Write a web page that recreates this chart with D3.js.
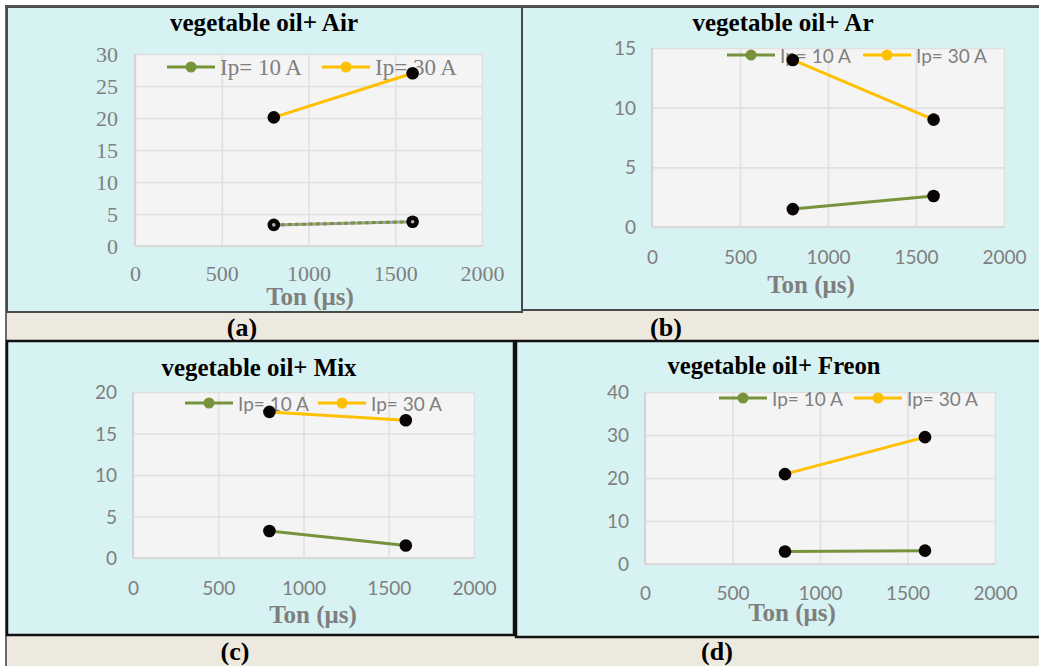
<!DOCTYPE html>
<html>
<head>
<meta charset="utf-8">
<script src="https://cdn.jsdelivr.net/npm/d3@7"></script>
<style>
  html, body { margin: 0; padding: 0; background: #ffffff; }
  svg { display: block; }
</style>
</head>
<body>
<script>
// Pulse-on time (µs) shared by every series
const tonUs = [800, 1600];
const seriesNames = ["Ip= 10 A", "Ip= 30 A"];

// Measured values per dielectric mixture
const airIp10 = [3.3, 3.8];
const airIp30 = [20.1, 27.0];
const arIp10 = [1.5, 2.6];
const arIp30 = [14.0, 9.0];
const mixIp10 = [3.25, 1.5];
const mixIp30 = [17.6, 16.6];
const freonIp10 = [2.9, 3.1];
const freonIp30 = [20.9, 29.5];

// Axis ticks
const xTicks = [0, 500, 1000, 1500, 2000];
const airYTicks = [0, 5, 10, 15, 20, 25, 30];
const arYTicks = [0, 5, 10, 15];
const mixYTicks = [0, 5, 10, 15, 20];
const freonYTicks = [0, 10, 20, 30, 40];

const titles = ["vegetable oil+ Air", "vegetable oil+ Ar", "vegetable oil+ Mix", "vegetable oil+ Freon"];
const panelLabels = ["(a)", "(b)", "(c)", "(d)"];
const xAxisTitle = "Ton (μs)";

const GREEN = "#77933c";
const YELLOW = "#ffc000";
const GRAY_TEXT = "#7f7f7f";
const SERIF = "'Liberation Serif', 'Times New Roman', serif";
const SANS = "Lato, 'Open Sans', sans-serif";

const svg = d3.select("body").append("svg")
  .attr("width", 1039).attr("height", 666);

// page background: white margin, beige caption strips
svg.append("rect").attr("x", 0).attr("y", 0).attr("width", 1039).attr("height", 666).attr("fill", "#ffffff");
svg.append("rect").attr("x", 6).attr("y", 6).attr("width", 1040).attr("height", 670).attr("fill", "#ede9df");
svg.append("line").attr("x1", 6).attr("x2", 6).attr("y1", 5).attr("y2", 666)
  .attr("stroke", "#6a6a6a").attr("stroke-width", 2);

function caption(text, x, y) {
  svg.append("text").attr("x", x).attr("y", y).attr("text-anchor", "middle")
    .attr("font-family", SERIF).attr("font-weight", "bold").attr("font-size", 26)
    .attr("fill", "#000").text(text);
}

caption(panelLabels[0], 242, 336);
caption(panelLabels[1], 666, 336);

function frame(x, y, w, h, color, sw) {
  svg.append("rect").attr("x", x).attr("y", y).attr("width", w).attr("height", h)
    .attr("fill", "#d7f2f2").attr("stroke", color).attr("stroke-width", sw);
}
frame(7, 7, 515, 305, "#4a4a4a", 2);
frame(522, 7, 530, 303, "#4a4a4a", 2);
svg.append("line").attr("x1", 5).attr("x2", 1039).attr("y1", 6).attr("y2", 6)
  .attr("stroke", "#555").attr("stroke-width", 2);
frame(7, 341, 507, 294, "#111111", 2.5);
frame(516, 341, 530, 296, "#111111", 2.5);

caption(panelLabels[2], 235, 660);
caption(panelLabels[3], 717, 660);

const panels = [
  { title: titles[0], low: airIp10, high: airIp30, yTicks: airYTicks, font: SERIF, tickSize: 22, legendSize: 23,
    plot: { x0: 135, x1: 482, y0: 54, y1: 246 }, titleX: 264, titleY: 31, titleW: 188,
    xTickY: 273, xTitleX: 310, xTitleY: 305, yTickEnd: 118,
    legendY: 67, legendX: [167, 322], dashedLow: true },
  { title: titles[1], low: arIp10, high: arIp30, yTicks: arYTicks, font: SANS, tickSize: 19, legendSize: 19,
    plot: { x0: 652, x1: 1004, y0: 48, y1: 227 }, titleX: 783, titleY: 31, titleW: 181,
    xTickY: 257, xTitleX: 811, xTitleY: 293, yTickEnd: 636,
    legendY: 55, legendX: [727, 863], dashedLow: false },
  { title: titles[2], low: mixIp10, high: mixIp30, yTicks: mixYTicks, font: SANS, tickSize: 19, legendSize: 19,
    plot: { x0: 133, x1: 474, y0: 392, y1: 558 }, titleX: 259, titleY: 376, titleW: 195,
    xTickY: 588, xTitleX: 313, xTitleY: 623, yTickEnd: 117,
    legendY: 403, legendX: [185, 318], dashedLow: false },
  { title: titles[3], low: freonIp10, high: freonIp30, yTicks: freonYTicks, font: SANS, tickSize: 19, legendSize: 19,
    plot: { x0: 645, x1: 995, y0: 392, y1: 564 }, titleX: 774, titleY: 374, titleW: 213,
    xTickY: 593, xTitleX: 792, xTitleY: 621, yTickEnd: 629,
    legendY: 398, legendX: [719, 854], dashedLow: false }
];

function drawPanel(p) {
  const g = svg.append("g");
  const x = d3.scaleLinear().domain([0, 2000]).range([p.plot.x0, p.plot.x1]);
  const yMax = d3.max(p.yTicks);
  const y = d3.scaleLinear().domain([0, yMax]).range([p.plot.y1, p.plot.y0]);

  // title
  g.append("text").attr("x", p.titleX).attr("y", p.titleY).attr("text-anchor", "middle")
    .attr("font-family", SERIF).attr("font-weight", "bold").attr("font-size", 26)
    .attr("textLength", p.titleW).attr("lengthAdjust", "spacingAndGlyphs")
    .attr("fill", "#000").text(p.title);

  // plot area
  g.append("rect").attr("x", p.plot.x0).attr("y", p.plot.y0)
    .attr("width", p.plot.x1 - p.plot.x0).attr("height", p.plot.y1 - p.plot.y0)
    .attr("fill", "#f4f4f4");

  // gridlines
  const gx = g.append("g").attr("transform", `translate(0,${p.plot.y1})`)
    .call(d3.axisBottom(x).tickValues(xTicks).tickSize(-(p.plot.y1 - p.plot.y0)).tickFormat(""));
  const gy = g.append("g").attr("transform", `translate(${p.plot.x0},0)`)
    .call(d3.axisLeft(y).tickValues(p.yTicks).tickSize(-(p.plot.x1 - p.plot.x0)).tickFormat(""));
  [gx, gy].forEach(a => {
    a.select(".domain").remove();
    a.selectAll(".tick line").attr("stroke", "#e0e0e0").attr("stroke-width", 1.6);
  });
  // axis lines
  g.append("line").attr("x1", p.plot.x0).attr("x2", p.plot.x0).attr("y1", p.plot.y0).attr("y2", p.plot.y1)
    .attr("stroke", "#d4d4d4").attr("stroke-width", 2);
  g.append("line").attr("x1", p.plot.x0).attr("x2", p.plot.x1).attr("y1", p.plot.y1).attr("y2", p.plot.y1)
    .attr("stroke", "#d9d9d9").attr("stroke-width", 2);

  // tick labels
  const fmt = d3.format("d");
  const xl = g.append("g").attr("transform", `translate(0,${p.xTickY})`)
    .call(d3.axisBottom(x).tickValues(xTicks).tickFormat(fmt).tickSize(0).tickPadding(0));
  const yl = g.append("g").attr("transform", `translate(${p.yTickEnd},0)`)
    .call(d3.axisLeft(y).tickValues(p.yTicks).tickFormat(fmt).tickSize(0).tickPadding(0));
  [xl, yl].forEach(a => {
    a.select(".domain").remove();
    a.selectAll(".tick text").attr("font-family", p.font).attr("font-size", p.tickSize)
      .attr("fill", GRAY_TEXT).attr("y", 0).attr("dy", "0.35em");
  });
  yl.selectAll(".tick text").attr("x", 0);

  // axis title
  g.append("text").attr("x", p.xTitleX).attr("y", p.xTitleY).attr("text-anchor", "middle")
    .attr("font-family", SERIF).attr("font-weight", "bold").attr("font-size", 25)
    .attr("fill", GRAY_TEXT).text(xAxisTitle);

  // legend
  [GREEN, YELLOW].forEach((c, i) => {
    const lx = p.legendX[i];
    const lg = g.append("g");
    lg.append("line").attr("x1", lx).attr("x2", lx + 48).attr("y1", p.legendY).attr("y2", p.legendY)
      .attr("stroke", c).attr("stroke-width", 3);
    lg.append("circle").attr("cx", lx + 24).attr("cy", p.legendY).attr("r", 5.5).attr("fill", c);
    lg.append("text").attr("x", lx + 53).attr("y", p.legendY).attr("dominant-baseline", "central")
      .attr("font-family", p.font).attr("font-size", p.legendSize).attr("fill", GRAY_TEXT)
      .text(seriesNames[i]);
  });

  // series
  const line = d3.line().x((d, i) => x(tonUs[i])).y(d => y(d));
  if (p.dashedLow) {
    g.append("path").datum(p.low).attr("d", line).attr("fill", "none")
      .attr("stroke", "#a0a0a0").attr("stroke-width", 3);
    g.append("path").datum(p.low).attr("d", line).attr("fill", "none")
      .attr("stroke", GREEN).attr("stroke-width", 3).attr("stroke-dasharray", "4 3");
  } else {
    g.append("path").datum(p.low).attr("d", line).attr("fill", "none")
      .attr("stroke", GREEN).attr("stroke-width", 3);
  }
  g.append("path").datum(p.high).attr("d", line).attr("fill", "none")
    .attr("stroke", YELLOW).attr("stroke-width", 3);

  [p.low, p.high].forEach((vals, si) => {
    g.selectAll(null).data(vals).enter().append("circle")
      .attr("cx", (d, i) => x(tonUs[i])).attr("cy", d => y(d)).attr("r", 6.3)
      .attr("fill", "#0a0505");
    if (si === 0 && p.dashedLow) {
      g.selectAll(null).data(vals).enter().append("circle")
        .attr("cx", (d, i) => x(tonUs[i])).attr("cy", d => y(d)).attr("r", 1.8)
        .attr("fill", "#b0b0b0");
    }
  });
}

panels.forEach(drawPanel);
</script>
</body>
</html>
